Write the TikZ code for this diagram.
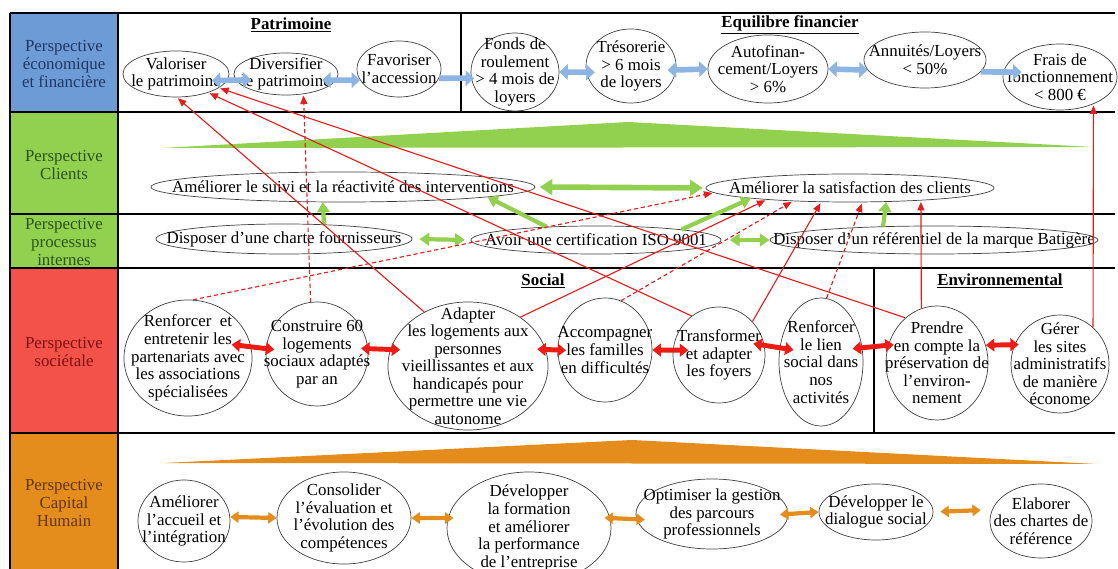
\documentclass[tikz,border=0pt]{standalone}
\usepackage{fontspec}
\setmainfont{Liberation Serif}
\usetikzlibrary{shapes.geometric,arrows.meta}

\definecolor{ecocell}{RGB}{108,155,214}
\definecolor{ecotext}{RGB}{32,56,100}
\definecolor{ecoarrow}{RGB}{141,180,226}
\definecolor{clicell}{RGB}{146,208,80}
\definecolor{clitext}{RGB}{42,84,24}
\definecolor{socell}{RGB}{242,82,72}
\definecolor{sotext}{RGB}{128,18,18}
\definecolor{soarrow}{RGB}{236,28,20}
\definecolor{humcell}{RGB}{228,141,28}
\definecolor{humtext}{RGB}{100,54,6}
\definecolor{impactred}{RGB}{226,30,30}

\tikzset{
	objectif/.style 2 args={ellipse,draw=black!75,line width=0.5pt,inner sep=-40pt,align=center,minimum width=#1*0.05cm,minimum height=#2*0.05cm},
	perspective/.style={align=center,inner sep=0pt},
	titre/.style={inner sep=0pt,font=\fontsize{12}{12.5}\selectfont\bfseries},
	flechebleue/.style={line width=4pt,color=ecoarrow,>={Triangle[length=6pt,width=11pt]}},
	flecheverte/.style={line width=3pt,color=clicell,>={Triangle[length=7pt,width=9pt]}},
	flecherouge/.style={line width=3.5pt,color=soarrow,>={Triangle[length=6pt,width=9pt]}},
	flecheorange/.style={line width=3pt,color=humcell,>={Triangle[length=6pt,width=8pt]}},
	impact/.style={line width=0.8pt,color=impactred,-{Triangle[length=6pt,width=5pt]},shorten >=1pt},
	impactpointille/.style={impact,dash pattern=on 3pt off 2pt}
}

\begin{document}
\begin{tikzpicture}[x=0.025cm,y=-0.025cm,font=\fontsize{12}{12.5}\selectfont]
	\useasboundingbox (0,0) rectangle (1118,569);
	
	%perspective cells
	\fill[ecocell] (10,13) rectangle (118,112);
	\fill[clicell] (10,112) rectangle (118,268);
	\fill[socell] (10,268) rectangle (118,433);
	\fill[humcell] (10,433) rectangle (118,569);
	%grid
	\draw[line width=1.3pt] (10,13) -- (1115,13);
	\draw[line width=1.3pt] (10,112) -- (1115,112);
	\draw[line width=1pt] (10,214) -- (1115,214);
	\draw[line width=1.3pt] (10,268) -- (1115,268);
	\draw[line width=1.3pt] (10,433) -- (1115,433);
	\draw[line width=1.3pt] (10,13) -- (10,569);
	\draw[line width=1.3pt] (118,13) -- (118,569);
	\draw[line width=1pt] (461,13) -- (461,112);
	\draw[line width=1.3pt] (874,268) -- (874,433);
	%growth bands
	\fill[clicell] (162,148) -- (628,122) -- (1093,147) -- cycle;
	\fill[humcell] (164,463) -- (632,440) -- (1097,464) -- cycle;
	
	%labels
	\node[perspective,text=ecotext] (labeleco) at (64,64) {Perspective\\économique\\et financière};
	\node[perspective,text=clitext] (labelclients) at (64,165) {Perspective\\Clients};
	\node[perspective,text=clitext] (labelprocessus) at (64,242) {Perspective\\processus\\internes};
	\node[perspective,text=sotext] (labelsocietale) at (64,352) {Perspective\\sociétale};
	\node[perspective,text=humtext] (labelhumain) at (64,503) {Perspective\\Capital\\Humain};
	\node[titre] (patrimoine) at (291,25) {\underline{Patrimoine}};
	\node[titre] (equilibre) at (790,25) {\underline{Equilibre financier}};
	\node[titre] (social) at (543,281) {\underline{Social}};
	\node[titre] (environnement) at (1000,281) {\underline{Environnemental}};
	
	%economique
	\node[objectif={53}{23}] (valoriser) at (176,74) {Valoriser\\le patrimoine};
	\node[objectif={52}{21}] (diversifier) at (286,74) {Diversifier\\le patrimoine};
	\node[objectif={42}{28}] (favoriser) at (399,69) {Favoriser\\l'accession};
	\node[objectif={44}{39}] (fonds) at (515,72) {Fonds de\\roulement\\> 4 mois de\\loyers};
	\node[objectif={45}{37}] (tresorerie) at (631,66) {Trésorerie\\> 6 mois\\de loyers};
	\node[objectif={60}{34}] (autofinancement) at (768,69) {Autofinan-\\cement/Loyers\\> 6\%};
	\node[objectif={61}{28}] (annuites) at (925,60) {Annuités/Loyers\\< 50\%};
	\node[objectif={57}{33}] (frais) at (1060,77) {Frais de\\fonctionnement\\< 800 €};
	%clients and processus
	\node[objectif={192}{15}] (suivi) at (343,187) {Améliorer le suivi et la réactivité des interventions};
	\node[objectif={144}{14}] (satisfaction) at (850,188) {Améliorer la satisfaction des clients};
	\node[objectif={128}{15}] (charte) at (284,239) {Disposer d'une charte fournisseurs};
	\node[objectif={125}{14}] (certification) at (596,240) {Avoir une certification ISO 9001};
	\node[objectif={164}{14}] (referentiel) at (934,240) {Disposer d'un référentiel de la marque Batigère};
	%societale
	\node[objectif={64}{58}] (renforcer) at (188,358) {Renforcer~ et\\entretenir les\\partenariats avec\\les associations\\spécialisées};
	\node[objectif={51}{52}] (construire) at (317,354) {Construire 60\\logements\\sociaux adaptés\\par an};
	\node[objectif={80}{64}] (adapter) at (468,366) {Adapter\\les logements aux\\personnes\\vieillissantes et aux\\handicapés pour\\permettre une vie\\autonome};
	\node[objectif={47}{52}] (accompagner) at (605,350) {Accompagner\\les familles\\en difficultés};
	\node[objectif={46}{48}] (transformer) at (719,355) {Transformer\\et adapter\\les foyers};
	\node[objectif={42}{64}] (lien) at (821,362) {Renforcer\\le lien\\social dans\\nos\\activités};
	\node[objectif={51}{57}] (prendre) at (937,363) {Prendre\\en compte la\\préservation de\\l'environ-\\nement};
	\node[objectif={49}{49}] (gerer) at (1060,364) {Gérer\\les sites\\administratifs\\de manière\\économe};
	%capital humain
	\node[objectif={46}{41}] (accueil) at (184,521) {Améliorer\\l'accueil et\\l'intégration};
	\node[objectif={67}{46}] (consolider) at (344,518) {Consolider\\l'évaluation et\\l'évolution des\\compétences};
	\node[objectif={82}{56}] (formation) at (529,528) {Développer\\la formation\\et améliorer\\la performance\\de l'entreprise};
	\node[objectif={76}{35}] (optimiser) at (712,514) {Optimiser la gestion\\des parcours\\professionnels};
	\node[objectif={57}{28}] (dialogue) at (876,512) {Développer le\\dialogue social};
	\node[objectif={51}{37}] (elaborer) at (1041,521) {Elaborer\\des chartes de\\référence};
	
	%arrows economique
	\draw[flechebleue,<->,shorten <=-11pt,shorten >=-11pt] (valoriser.-7) -- (diversifier.187);
	\draw[flechebleue,<->,shorten <=-10pt] (diversifier.-7) -- (favoriser.196);
	\draw[flechebleue,->,shorten >=-2pt] (favoriser.-13) -- (fonds.188);
	\draw[flechebleue,<->,shorten >=-6pt] (fonds.east) -- (tresorerie.188);
	\draw[flechebleue,<->,shorten <=-6pt] (tresorerie.-5) -- (autofinancement.west);
	\draw[flechebleue,<->] (autofinancement.east) -- (annuites.190);
	\draw[flechebleue,->,shorten >=-13pt] (annuites.-12) -- (frais.175);
	%arrows clients and processus
	\draw[flecheverte,->] (charte.20) -- (suivi.-143);
	\draw[flecheverte,<->,shorten <=5pt,shorten >=4pt] (charte.east) -- (certification.west);
	\draw[flecheverte,->] (certification.165) -- (suivi.-4);
	\draw[flecheverte,<->,line width=4pt,>={Triangle[length=9pt,width=11pt]},shorten <=3pt,shorten >=2pt] (suivi.east) -- (satisfaction.west);
	\draw[flecheverte,->] (certification.7) -- (satisfaction.-174);
	\draw[flecheverte,<->,shorten <=6pt] (certification.east) -- (referentiel.west);
	\draw[flecheverte,->] (referentiel.165) -- (satisfaction.-21);
	%arrows societale
	\draw[flecherouge,<->,shorten <=-14pt,shorten >=-6pt] (renforcer.10) -- (construire.174);
	\draw[flecherouge,<->,shorten <=-5pt,shorten >=-7pt] (construire.6) -- (adapter.168);
	\draw[flecherouge,<->,shorten <=-6pt,shorten >=-6pt] (adapter.12) -- (accompagner.west);
	\draw[flecherouge,<->,shorten >=-11pt] (accompagner.east) -- (transformer.174);
	\draw[flecherouge,<->,shorten <=-8pt,shorten >=-10pt] (transformer.12) -- (lien.161);
	\draw[flecherouge,<->,shorten <=-7pt,shorten >=-4pt] (lien.19) -- (prendre.160);
	\draw[flecherouge,<->,shorten >=-3pt] (prendre.20) -- (gerer.157);
	%arrows capital humain
	\draw[flecheorange,<->] (accueil.5) -- (consolider.west);
	\draw[flecheorange,<->,shorten >=-4pt] (consolider.east) -- (formation.173);
	\draw[flecheorange,<->,shorten <=-4pt,shorten >=-6pt] (formation.7) -- (optimiser.184);
	\draw[flecheorange,<->,shorten <=-6pt] (optimiser.east) -- (dialogue.west);
	\draw[flecheorange,<->,shorten <=5pt,shorten >=8pt] (dialogue.east) -- (elaborer.167);
	
	%impacts
	\draw[impact] (adapter.129) -- (valoriser.-88);
	\draw[impact] (transformer.125) -- (valoriser.-30);
	\draw[impact] (prendre.125) -- (valoriser.-18);
	\draw[impactpointille] (construire.97) -- (diversifier.-49);
	\draw[impactpointille] (renforcer.85) -- (satisfaction.-178);
	\draw[impact] (adapter.43) -- (satisfaction.-172);
	\draw[impactpointille] (accompagner.72) -- (satisfaction.-167);
	\draw[impact] (transformer.45) -- (satisfaction.-154);
	\draw[impactpointille] (lien.85) -- (satisfaction.-49);
	\draw[impact] (prendre.106) -- (satisfaction.-10);
	\draw[impact] (gerer.48) -- (frais.-39);
\end{tikzpicture}
\end{document}
